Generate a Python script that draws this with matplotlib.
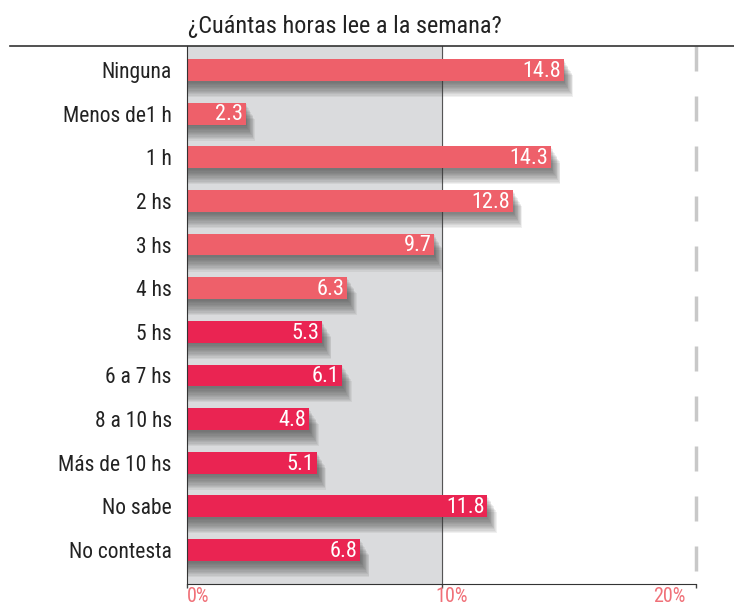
import matplotlib.pyplot as plt
import matplotlib.lines as mlines
import matplotlib.transforms as mtransforms

plt.rcParams['font.family'] = ['Roboto Condensed', 'Liberation Sans Narrow', 'Roboto', 'DejaVu Sans']

categories = ['Ninguna', 'Menos de1 h', '1 h', '2 hs', '3 hs', '4 hs',
              '5 hs', '6 a 7 hs', '8 a 10 hs', 'Más de 10 hs', 'No sabe', 'No contesta']
values = [14.8, 2.3, 14.3, 12.8, 9.7, 6.3, 5.3, 6.1, 4.8, 5.1, 11.8, 6.8]
colors = ['#EE606A'] * 6 + ['#EA2452'] * 6
xticks = [0, 10, 20]
xticklabels = ['0%', '10%', '20%']

fig = plt.figure(figsize=(7.34, 6.08), dpi=100)
ax = fig.add_axes([187 / 734, 1 - 584 / 608, (696 - 187) / 734, (584 - 46) / 608])

y = list(range(len(categories)))
h = 0.5
ytop, ybot = -0.55, 11.78

# grey band 0-10%
ax.axvspan(0, 10, color='#DADBDD', zorder=0)
ax.axvline(10, color='#555555', lw=0.8, zorder=0.5)
ax.plot([20, 20], [ytop, ybot], color='#C8C8C8', lw=2.5, dashes=(7.2, 7.2), zorder=0.5,
        solid_capstyle='butt', clip_on=False)

# soft shadows below the bars
for k in range(12):
    off = 0.04 + k * 0.03
    ax.barh([i + off for i in y], [v + 0.04 + k * 0.03 for v in values], height=h,
            color='#3a3a3a', alpha=0.075, left=0, zorder=1, linewidth=0)

ax.barh(y, values, height=h, color=colors, zorder=2, linewidth=0)
for i, v in zip(y, values):
    ax.text(v - 0.1, i + 0.03, f'{v:.1f}', color='white', ha='right', va='center',
            fontsize=16, zorder=3)

ax.set_xlim(0, 20)
ax.set_ylim(ybot, ytop)
ax.set_yticks(y)
ax.set_yticklabels(categories, fontsize=15.5, color='#222222')
ax.tick_params(axis='y', length=0, pad=11)
ax.set_xticks(xticks)
ax.set_xticklabels([])
ax.tick_params(axis='x', length=3, width=1, color='#444444')

trans = mtransforms.blended_transform_factory(ax.transData, fig.transFigure)
for xt, lab, ha, dx in zip(xticks, xticklabels, ['left', 'left', 'right'], [0, -0.25, -0.4]):
    ax.text(xt + dx, 1 - 587 / 608, lab, transform=trans, ha=ha, va='top',
            fontsize=14.5, color='#F07078', clip_on=False)

for s in ['top', 'right']:
    ax.spines[s].set_visible(False)
ax.spines['left'].set_color('#333333')
ax.spines['bottom'].set_color('#333333')

fig.add_artist(mlines.Line2D([10 / 734, 1], [1 - 46 / 608] * 2, color='#333333', lw=1.2))
fig.text(345 / 734, 1 - 26 / 608, '¿Cuántas horas lee a la semana?', ha='center',
         va='center', fontsize=17.5, color='#222222')

fig.savefig('out.png', dpi=100)
